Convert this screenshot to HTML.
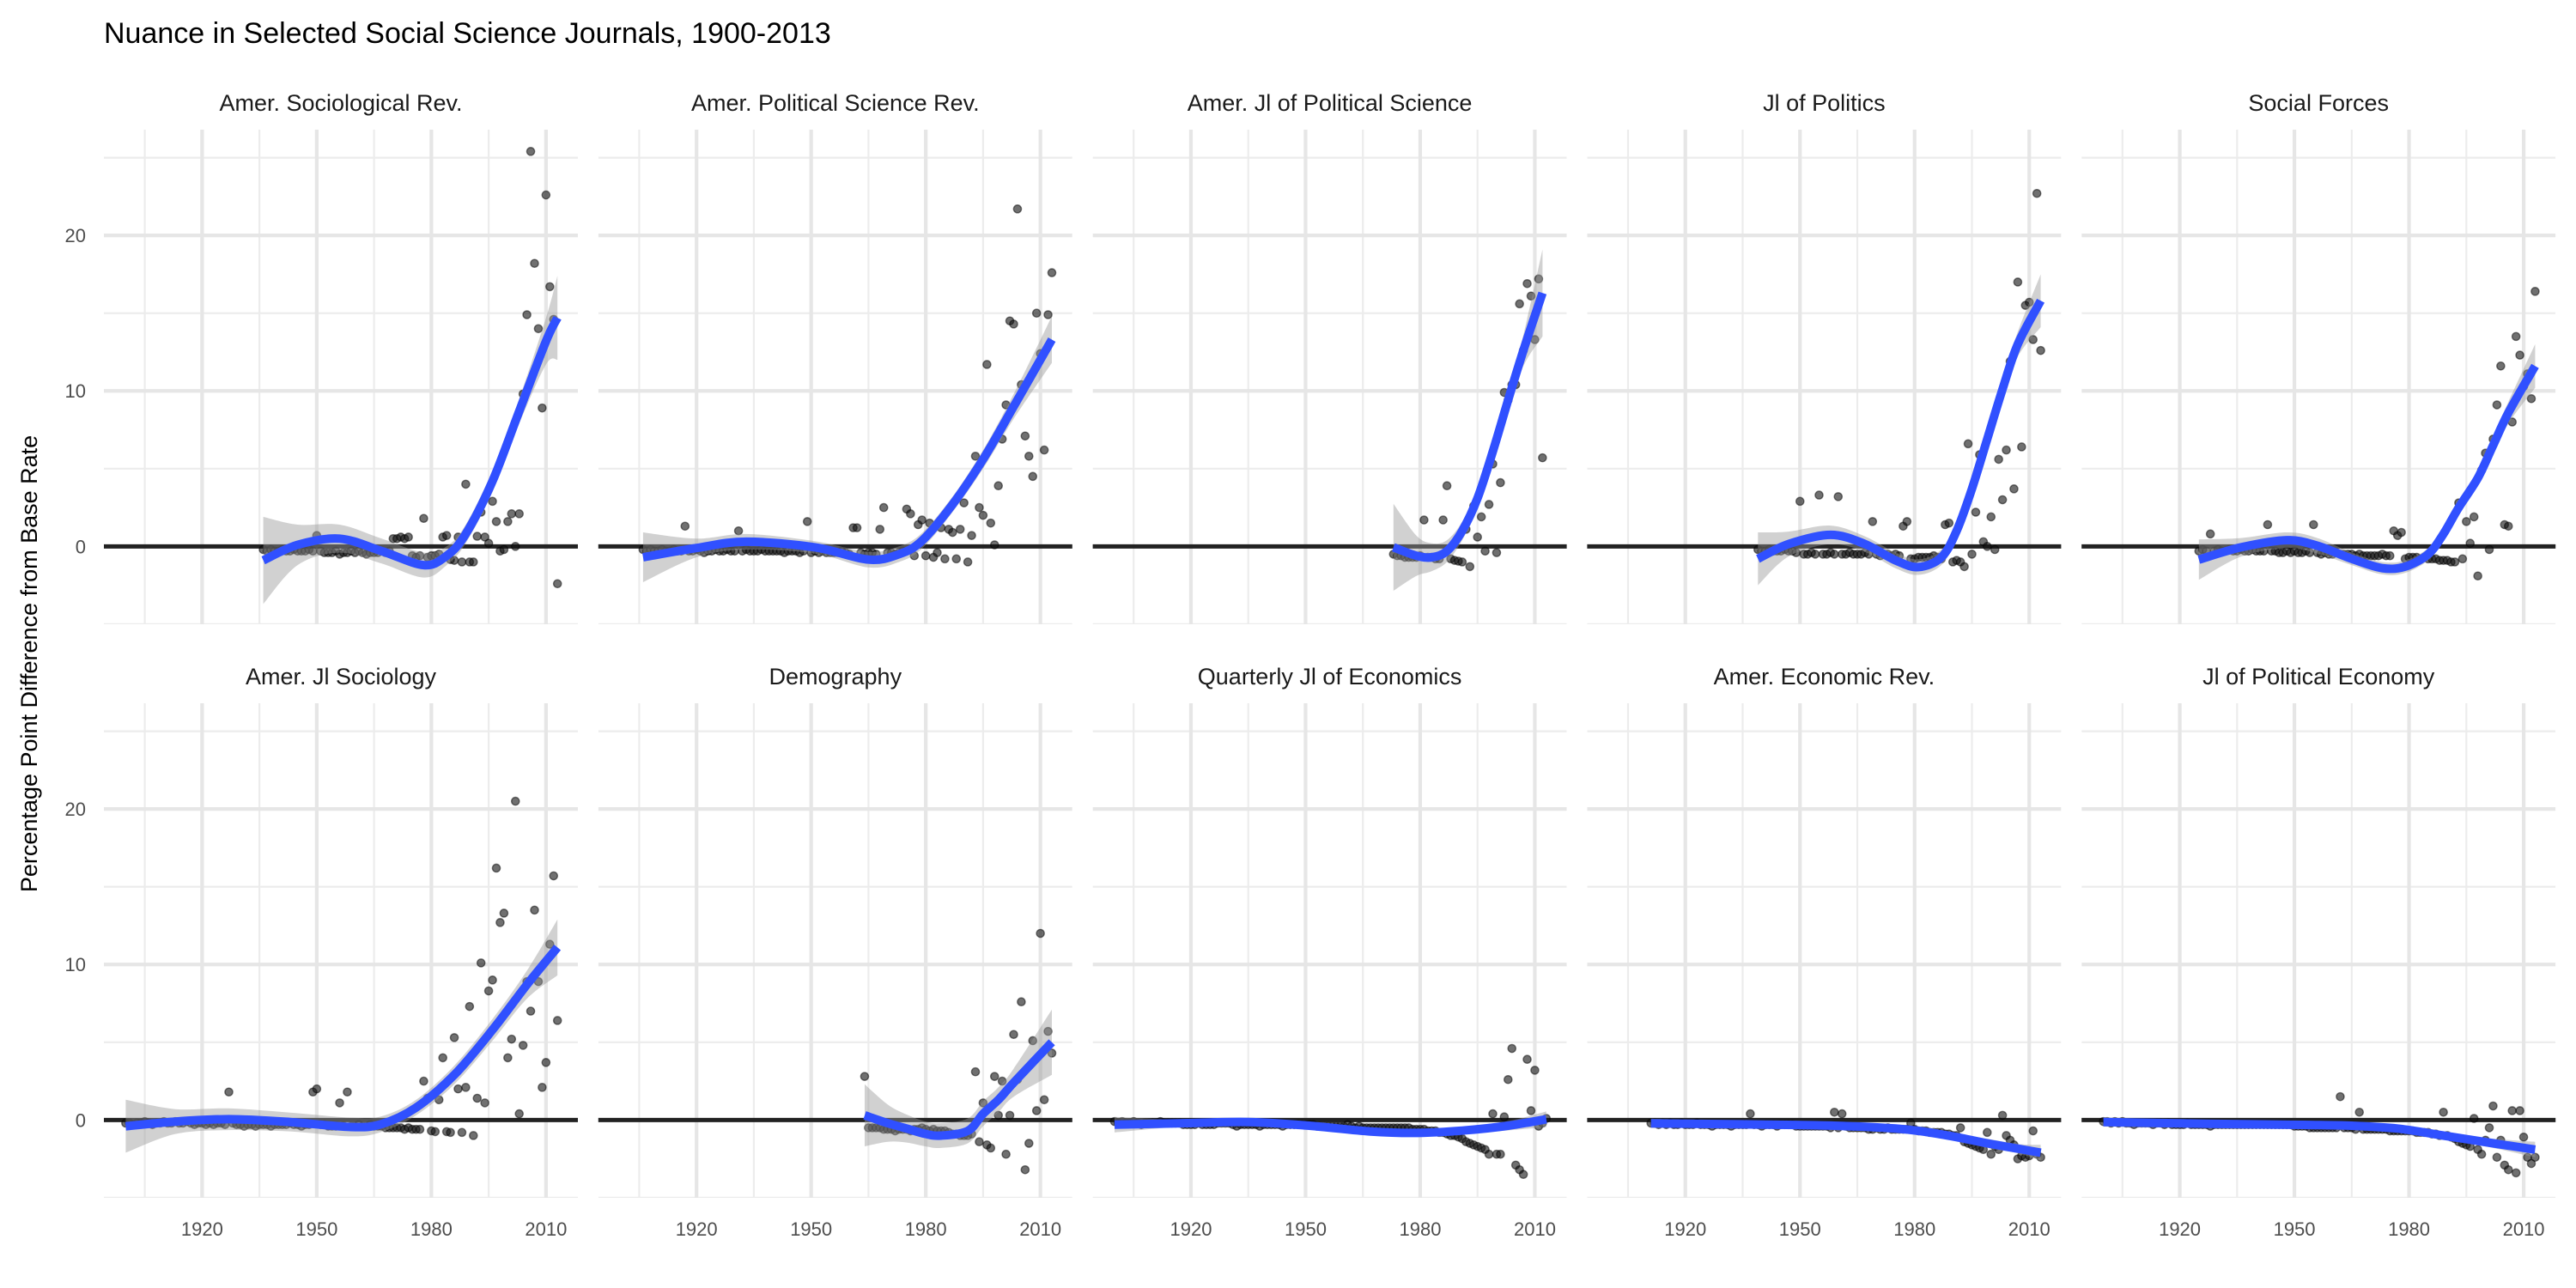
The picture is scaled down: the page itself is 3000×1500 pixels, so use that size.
<!DOCTYPE html>
<html><head><meta charset="utf-8"><title>Nuance in Selected Social Science Journals</title>
<style>html,body{margin:0;padding:0;background:#fff}svg{display:block}text{font-family:"Liberation Sans",Arial,sans-serif}</style>
</head><body>
<svg id="chart" xmlns="http://www.w3.org/2000/svg" width="3000" height="1500" viewBox="0 0 3000 1500">
<rect width="3000" height="1500" fill="#fff"/>
<text x="121" y="50" font-size="34" fill="#000">Nuance in Selected Social Science Journals, 1900-2013</text>
<text transform="translate(43,773) rotate(-90)" text-anchor="middle" font-size="27" fill="#000">Percentage Point Difference from Base Rate</text>
<g id="panels"></g>
</svg>
<script>
const panelTitles = ["Amer. Sociological Rev.","Amer. Political Science Rev.","Amer. Jl of Political Science","Jl of Politics","Social Forces","Amer. Jl Sociology","Demography","Quarterly Jl of Economics","Amer. Economic Rev.","Jl of Political Economy"];
const yTicks = [0,10,20];
const yMinor = [-5,5,15,25];
const xTicks = [1920,1950,1980,2010];
const xMinor = [1905,1935,1965,1995];

const p1Start = 1936;
const p1Vals = [-0.2,-0.3,-0.2,-0.3,-0.3,-0.2,-0.3,-0.3,-0.2,-0.3,-0.3,-0.3,-0.2,-0.3,
0.7,-0.3,-0.4,-0.4,-0.4,-0.3,-0.5,-0.4,-0.4,-0.3,
-0.4,-0.3,-0.4,-0.5,-0.4,-0.4,-0.4,-0.3,-0.4,-0.3,
0.5,0.5,0.6,0.5,0.6,-0.6,-0.7,-0.6,1.8,-0.7,
-0.6,-0.6,-0.5,0.6,0.7,-0.85,-0.9,0.6,-1.0,4.0,
-1.0,-1.0,0.65,2.2,0.6,0.2,2.9,1.6,-0.3,-0.2,
1.6,2.1,0,2.1,
9.8,14.9,25.4,18.2,14.0,8.9,22.6,16.7,14.6,-2.4];
const p1FitX = [1936,1945,1956,1967,1978,1984,1989,1996,2003,2010,2013];
const p1FitY = [-0.9,0.1,0.5,-0.3,-1.2,-0.6,0.8,4.2,8.7,13.2,14.7];
const p1FitSe = [2.8,1.3,0.9,0.8,0.8,0.6,0.6,0.7,0.8,1.5,2.7];

const p2Start = 1906;
const p2Vals = [-0.2,-0.3,-0.2,-0.3,-0.3,-0.2,-0.3,-0.3,-0.2,-0.3,
-0.3,1.3,-0.3,-0.3,-0.2,-0.3,-0.4,-0.3,-0.3,-0.2,
-0.3,-0.3,-0.2,-0.3,-0.3,1.0,-0.3,-0.2,-0.3,-0.3,
-0.3,-0.2,-0.3,-0.3,-0.3,-0.3,-0.3,-0.4,-0.3,-0.3,
-0.3,-0.4,-0.3,1.6,-0.4,-0.3,-0.4,-0.3,-0.4,-0.4,
-0.4,-0.4,-0.3,-0.4,-0.5,1.2,1.2,-0.4,-0.5,-0.4,
-0.4,-0.5,1.1,2.5,-0.4,-0.4,-0.5,-0.4,-0.3,2.4,
2.1,-0.6,1.4,1.7,-0.6,1.5,-0.7,-0.4,1.2,-0.8,
1.1,0.9,-0.8,1.1,2.8,-1.0,0.7,5.8,2.5,2.0,
11.7,1.5,0.1,3.9,6.9,9.1,14.5,14.3,21.7,10.4,
7.1,5.8,4.5,15.0,12.4,6.2,14.9,17.6];
const p2FitX = [1906,1920,1933,1951,1965,1973,1979,1987,1995,2003,2013];
const p2FitY = [-0.7,-0.1,0.3,-0.06,-0.85,-0.5,0.36,2.7,5.6,9.0,13.3];
const p2FitSe = [1.6,0.6,0.5,0.4,0.5,0.5,0.5,0.5,0.6,0.8,1.5];

const p3Start = 1973;
const p3Vals = [-0.5,-0.6,-0.6,-0.7,-0.7,-0.7,-0.7,-0.6,1.7,-0.7,
-0.7,-0.8,-0.8,1.7,3.9,-0.8,-0.9,-0.95,-1.0,1.1,
-1.3,2.6,0.6,1.9,-0.3,2.7,5.3,-0.4,4.1,9.9,
9.4,10.4,10.4,15.6,12.6,16.9,16.1,13.3,17.2,5.7];
const p3FitX = [1973,1979,1983,1987,1991,1995,1999,2003,2007,2012];
const p3FitY = [-0.06,-0.6,-0.7,-0.3,1.0,3.1,6.1,9.4,12.6,16.3];
const p3FitSe = [2.8,1.3,0.9,0.7,0.6,0.6,0.6,0.7,1.0,2.8];

const p4Start = 1939;
const p4Vals = [-0.2,-0.3,-0.3,-0.2,-0.3,-0.3,-0.3,-0.2,-0.3,-0.3,
-0.4,2.9,-0.5,-0.5,-0.4,-0.5,3.3,-0.5,-0.5,-0.4,
-0.5,3.2,-0.5,-0.5,-0.4,-0.5,-0.5,-0.5,-0.4,-0.5,
1.6,-0.5,-0.6,-0.5,-0.5,-0.6,-0.5,-0.6,1.3,1.6,
-0.8,-0.8,-0.7,-0.7,-0.7,-0.7,-0.6,-0.7,-0.8,1.4,
1.5,-1.0,-0.9,-1.0,-1.3,6.6,-0.5,2.2,5.9,0.3,
0,1.9,-0.2,5.6,3.0,6.2,11.9,3.7,17.0,6.4,
15.5,15.7,13.3,22.7,12.6];
const p4FitX = [1939,1947,1958,1967,1975,1981,1987,1991,1995,1999,2003,2007,2013];
const p4FitY = [-0.8,0.15,0.74,0.15,-0.9,-1.33,-0.7,1.0,3.7,6.9,10.1,13.0,15.8];
const p4FitSe = [1.7,0.8,0.6,0.5,0.5,0.5,0.5,0.5,0.6,0.6,0.7,0.8,1.7];

const p5Start = 1925;
const p5Vals = [-0.3,-0.2,-0.3,0.8,-0.3,-0.2,-0.3,-0.3,-0.2,-0.3,
-0.3,-0.2,-0.3,-0.3,-0.2,-0.3,-0.3,-0.3,1.4,-0.3,
-0.3,-0.4,-0.4,-0.3,-0.4,-0.3,-0.4,-0.4,-0.3,-0.4,
1.4,-0.4,-0.5,-0.4,-0.5,-0.5,-0.4,-0.5,-0.5,-0.5,
-0.5,-0.6,-0.5,-0.6,-0.6,-0.6,-0.6,-0.6,-0.5,-0.6,
-0.6,1.0,0.7,0.9,-0.8,-0.7,-0.7,-0.7,-0.8,-0.7,
-0.8,-0.8,-0.8,-0.9,-0.9,-0.9,-1.0,-1.0,2.8,-0.8,
1.6,0.2,1.9,-1.9,4.9,6.0,-0.2,6.9,9.1,11.6,
1.4,1.3,8.0,13.5,12.3,10.3,11.1,9.5,16.4];
const p5FitX = [1925,1936,1948,1956,1965,1973,1979,1985,1989,1993,1998,2002,2006,2013];
const p5FitY = [-0.85,-0.06,0.4,0.04,-0.8,-1.4,-1.3,-0.5,0.8,2.5,4.4,6.5,8.6,11.6];
const p5FitSe = [1.3,0.6,0.5,0.5,0.4,0.4,0.4,0.4,0.5,0.5,0.5,0.6,0.7,1.4];

const p6Start = 1900;
const p6Vals = [-0.2,-0.2,-0.3,-0.2,-0.2,-0.1,-0.2,-0.3,-0.2,-0.2,
-0.1,-0.2,-0.2,-0.1,-0.2,-0.2,-0.1,-0.2,-0.3,-0.2,
-0.2,-0.3,-0.2,-0.3,-0.2,-0.2,-0.3,1.8,-0.2,-0.3,
-0.3,-0.4,-0.3,-0.3,-0.4,-0.3,-0.3,-0.3,-0.4,-0.3,
-0.3,-0.3,-0.3,-0.2,-0.3,-0.3,-0.4,-0.3,-0.3,1.8,
2.0,-0.3,-0.3,-0.4,-0.4,-0.4,1.1,-0.4,1.8,-0.4,
-0.4,-0.3,-0.4,-0.4,-0.3,-0.4,-0.4,-0.4,-0.5,-0.5,
-0.5,-0.5,-0.5,-0.6,-0.5,-0.6,-0.6,-0.6,2.5,1.4,
-0.7,-0.75,1.3,4.0,-0.75,-0.8,5.3,2.0,-0.8,2.1,
7.3,-1.0,1.4,10.1,1.1,8.3,9.0,16.2,12.7,13.3,
4.0,5.2,20.5,0.4,4.8,8.9,7.0,13.5,8.9,2.1,
3.7,11.3,15.7,6.4];
const p6FitX = [1900,1913,1927,1943,1959,1967,1976,1986,1996,2005,2013];
const p6FitY = [-0.4,-0.1,0.05,-0.13,-0.45,-0.26,0.8,2.9,5.8,8.7,11.1];
const p6FitSe = [1.7,0.8,0.7,0.6,0.6,0.5,0.5,0.6,0.7,0.9,1.8];

const p7Start = 1964;
const p7Vals = [2.8,-0.5,-0.5,-0.5,-0.5,-0.6,-0.6,-0.6,-0.7,-0.6,
-0.6,-0.6,-0.7,-0.6,-0.6,-0.5,-0.6,-0.7,-0.6,-0.7,
-0.7,-0.7,-0.8,-0.9,-0.9,-1.0,-1.0,-1.0,-0.9,3.1,
-1.4,1.1,-1.6,-1.8,2.8,0.3,2.5,-2.2,0.3,5.5,
2.6,7.6,-3.2,-1.5,5.1,0.6,12.0,1.3,5.7,4.3];
const p7FitX = [1964,1970,1975,1980,1984,1991,1995,1999,2003,2013];
const p7FitY = [0.3,-0.2,-0.55,-0.9,-1.0,-0.7,0.4,1.3,2.4,5.0];
const p7FitSe = [2.0,1.2,0.9,0.8,0.8,0.8,0.8,0.8,0.9,2.1];

const p8Start = 1900;
const p8Vals = [-0.1,-0.2,-0.1,-0.2,-0.2,-0.1,-0.2,-0.3,-0.2,-0.2,
-0.2,-0.2,-0.1,-0.2,-0.2,-0.2,-0.2,-0.2,-0.3,-0.3,
-0.3,-0.3,-0.2,-0.3,-0.3,-0.3,-0.3,-0.2,-0.2,-0.2,
-0.2,-0.3,-0.4,-0.3,-0.3,-0.3,-0.3,-0.3,-0.4,-0.3,
-0.3,-0.3,-0.3,-0.3,-0.4,-0.3,-0.3,-0.3,-0.3,-0.3,
-0.3,-0.3,-0.3,-0.4,-0.4,-0.4,-0.4,-0.4,-0.4,-0.4,
-0.4,-0.3,-0.4,-0.5,-0.4,-0.5,-0.5,-0.5,-0.5,-0.5,
-0.5,-0.5,-0.5,-0.5,-0.5,-0.5,-0.5,-0.5,-0.6,-0.6,
-0.6,-0.6,-0.7,-0.7,-0.7,-0.8,-0.8,-0.9,-1.0,-1.0,
-1.1,-1.2,-1.4,-1.5,-1.6,-1.7,-1.8,-1.9,-2.2,0.4,
-2.2,-2.2,0.2,2.6,4.6,-2.9,-3.2,-3.5,3.9,0.6,
3.2,-0.4,-0.2,0.1];
const p8FitX = [1900,1919,1935,1951,1967,1979,1991,2003,2013];
const p8FitY = [-0.3,-0.2,-0.13,-0.37,-0.74,-0.83,-0.68,-0.37,0.05];
const p8FitSe = [0.5,0.2,0.2,0.2,0.2,0.2,0.2,0.3,0.5];

const p9Start = 1911;
const p9Vals = [-0.2,-0.2,-0.3,-0.2,-0.3,-0.2,-0.3,-0.3,-0.2,-0.3,
-0.3,-0.3,-0.2,-0.3,-0.3,-0.3,-0.4,-0.3,-0.3,-0.3,
-0.3,-0.4,-0.3,-0.3,-0.3,-0.3,0.4,-0.3,-0.3,-0.4,
-0.3,-0.3,-0.3,-0.4,-0.3,-0.3,-0.3,-0.3,-0.4,-0.4,
-0.4,-0.4,-0.4,-0.4,-0.4,-0.4,-0.4,-0.5,0.5,-0.5,
0.4,-0.4,-0.5,-0.5,-0.5,-0.5,-0.5,-0.6,-0.6,-0.5,
-0.6,-0.6,-0.5,-0.6,-0.6,-0.6,-0.6,-0.6,-0.2,-0.6,
-0.7,-0.7,-0.7,-0.8,-0.8,-0.8,-0.8,-0.9,-0.9,-1.0,
-1.0,-0.5,-1.4,-1.5,-1.6,-1.7,-1.8,-1.9,-0.8,-2.2,
-1.7,-1.9,0.3,-1.0,-1.3,-1.6,-2.5,-2.3,-2.4,-2.3,
-0.7,-2.2,-2.4];
const p9FitX = [1911,1935,1959,1975,1983,1991,1999,2007,2013];
const p9FitY = [-0.22,-0.28,-0.37,-0.55,-0.77,-1.1,-1.5,-1.84,-2.1];
const p9FitSe = [0.3,0.2,0.2,0.2,0.2,0.2,0.3,0.3,0.5];

const p10Start = 1900;
const p10Vals = [-0.1,-0.1,-0.2,-0.1,-0.2,-0.1,-0.2,-0.2,-0.3,-0.2,
-0.2,-0.2,-0.2,-0.3,-0.2,-0.2,-0.3,-0.2,-0.3,-0.3,
-0.3,-0.3,-0.2,-0.3,-0.3,-0.3,-0.3,-0.3,-0.4,-0.3,
-0.3,-0.3,-0.3,-0.3,-0.3,-0.3,-0.3,-0.3,-0.3,-0.3,
-0.3,-0.3,-0.3,-0.3,-0.3,-0.3,-0.3,-0.3,-0.3,-0.3,
-0.4,-0.4,-0.4,-0.4,-0.5,-0.5,-0.5,-0.5,-0.5,-0.5,
-0.5,-0.5,1.5,-0.5,-0.5,-0.5,-0.6,0.5,-0.6,-0.6,
-0.6,-0.6,-0.6,-0.6,-0.6,-0.7,-0.7,-0.7,-0.7,-0.7,
-0.7,-0.7,-0.8,-0.8,-0.8,-0.8,-0.9,-0.9,-1.0,0.5,
-1.0,-1.1,-1.2,-1.4,-1.5,-1.6,-1.7,0.1,-1.9,-2.2,
-1.3,-0.5,0.9,-2.4,-1.3,-2.9,-3.2,0.6,-3.4,0.6,
-1.1,-2.4,-2.8,-2.4];
const p10FitX = [1900,1927,1952,1965,1977,1989,2002,2013];
const p10FitY = [-0.13,-0.24,-0.31,-0.37,-0.55,-1.0,-1.5,-1.9];
const p10FitSe = [0.3,0.2,0.2,0.2,0.2,0.2,0.3,0.5];

const panelData = [
 [p1Start,p1Vals,p1FitX,p1FitY,p1FitSe],[p2Start,p2Vals,p2FitX,p2FitY,p2FitSe],
 [p3Start,p3Vals,p3FitX,p3FitY,p3FitSe],[p4Start,p4Vals,p4FitX,p4FitY,p4FitSe],
 [p5Start,p5Vals,p5FitX,p5FitY,p5FitSe],[p6Start,p6Vals,p6FitX,p6FitY,p6FitSe],
 [p7Start,p7Vals,p7FitX,p7FitY,p7FitSe],[p8Start,p8Vals,p8FitX,p8FitY,p8FitSe],
 [p9Start,p9Vals,p9FitX,p9FitY,p9FitSe],[p10Start,p10Vals,p10FitX,p10FitY,p10FitSe]
];

const NS = "http://www.w3.org/2000/svg";
const root = document.getElementById("panels");
const PW = 552, PH = 576, STEP = 575.8;
const ROW_TOP = [151, 819];
const X0 = 1894.3, PXY = 4.45, Y_TOP = 26.8, PXV = 18.11;

function mk(tag, attrs, parent){
  const e = document.createElementNS(NS, tag);
  for (const k in attrs) e.setAttribute(k, attrs[k]);
  parent.appendChild(e);
  return e;
}
function spline(pts){
  let d = "M" + pts[0][0].toFixed(1) + "," + pts[0][1].toFixed(1);
  for (let i = 0; i < pts.length - 1; i++){
    const p0 = pts[Math.max(0,i-1)], p1 = pts[i], p2 = pts[i+1], p3 = pts[Math.min(pts.length-1,i+2)];
    const c1x = p1[0] + (p2[0]-p0[0])/6, c1y = p1[1] + (p2[1]-p0[1])/6;
    const c2x = p2[0] - (p3[0]-p1[0])/6, c2y = p2[1] - (p3[1]-p1[1])/6;
    d += " C" + c1x.toFixed(1)+","+c1y.toFixed(1)+" "+c2x.toFixed(1)+","+c2y.toFixed(1)+" "+p2[0].toFixed(1)+","+p2[1].toFixed(1);
  }
  return d;
}

panelData.forEach((pd, idx) => {
  const col = idx % 5, row = Math.floor(idx / 5);
  const left = 121 + col * STEP, top = ROW_TOP[row];
  const xs = yr => left + (yr - X0) * PXY;
  const ys = v => top + (Y_TOP - v) * PXV;
  const g = mk("g", {}, root);
  
  
  const cid = "clip" + idx;
  const cp = mk("clipPath", {id: cid}, g);
  mk("rect", {x: left, y: top, width: PW, height: PH}, cp);

  const strip = mk("text", {x: left + PW/2, y: top - 22, "text-anchor": "middle", "font-size": 27, fill: "#1a1a1a"}, g);
  
  
  strip.textContent = panelTitles[idx];

  const grid = mk("g", {"clip-path": "url(#" + cid + ")"}, g);
  
  
  yMinor.forEach(v => mk("line", {x1: left, x2: left+PW, y1: ys(v), y2: ys(v), stroke: "#ececec", "stroke-width": 2.2}, grid));
  xMinor.forEach(v => mk("line", {x1: xs(v), x2: xs(v), y1: top, y2: top+PH, stroke: "#ececec", "stroke-width": 2.2}, grid));
  yTicks.forEach(v => mk("line", {x1: left, x2: left+PW, y1: ys(v), y2: ys(v), stroke: "#e6e6e6", "stroke-width": 4.2}, grid));
  xTicks.forEach(v => mk("line", {x1: xs(v), x2: xs(v), y1: top, y2: top+PH, stroke: "#e6e6e6", "stroke-width": 4.2}, grid));

  const zl = mk("line", {x1: left, x2: left+PW, y1: ys(0), y2: ys(0), stroke: "#222", "stroke-width": 5}, g);
  
  

  const [start, vals, fx, fy, fse] = pd;
  const pg = mk("g", {"clip-path": "url(#" + cid + ")"}, g);
  
  
  vals.forEach((v, i) => {
    const c = mk("circle", {cx: xs(start + i), cy: ys(v), r: 4.6, fill: "#111", "fill-opacity": 0.6, stroke: "#000", "stroke-opacity": 0.5, "stroke-width": 1.4}, pg);
    
    
  });

  const up = fx.map((x,i) => [xs(x), ys(fy[i] + fse[i])]);
  const lo = fx.map((x,i) => [xs(x), ys(fy[i] - fse[i])]).reverse();
  const dUp = spline(up);
  const dLo = spline(lo).replace(/^M/, "L");
  const rib = mk("path", {d: dUp + " " + dLo + " Z", fill: "#999", "fill-opacity": 0.45, "clip-path": "url(#" + cid + ")"}, g);
  
  
  const ln = mk("path", {d: spline(fx.map((x,i) => [xs(x), ys(fy[i])])), fill: "none", stroke: "#3050ff", "stroke-width": 10, "stroke-linecap": "butt", "clip-path": "url(#" + cid + ")"}, g);
  
  

  if (col === 0){
    yTicks.forEach(v => {
      const t = mk("text", {x: 100, y: ys(v) + 8, "text-anchor": "end", "font-size": 22, fill: "#4d4d4d"}, g);
      
      
      t.textContent = v;
    });
  }
  if (row === 1){
    xTicks.forEach(v => {
      const t = mk("text", {x: xs(v), y: 1439, "text-anchor": "middle", "font-size": 22, fill: "#4d4d4d"}, g);
      
      
      t.textContent = v;
    });
  }
});
</script>
</body></html>
